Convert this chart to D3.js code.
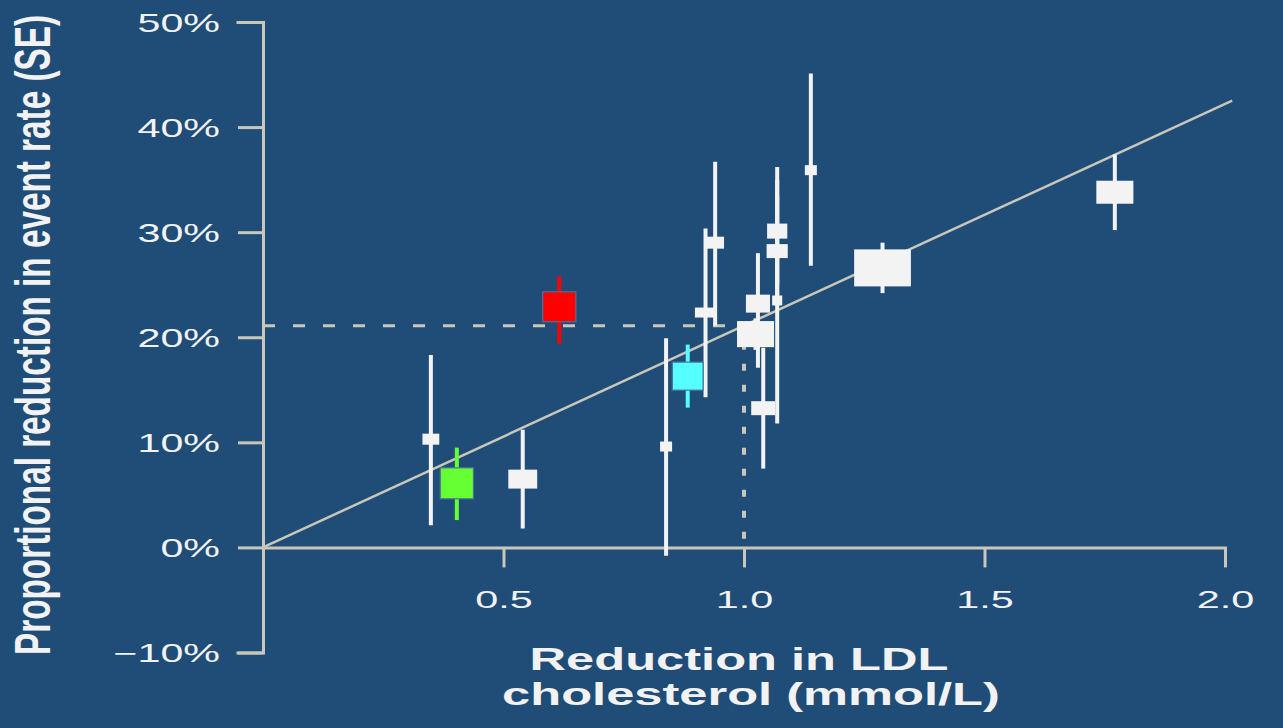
<!DOCTYPE html>
<html>
<head>
<meta charset="utf-8">
<script src="https://cdn.jsdelivr.net/npm/d3@7"></script>
<style>
  html, body { margin: 0; padding: 0; background: #204d77; }
  svg { display: block; }
</style>
</head>
<body>
<script>
// ---------- DATA ----------
// LDL cholesterol reduction (mmol/L) per trial
const reduction = [0.349, 0.403, 0.540, 0.616, 0.838, 0.883, 0.920, 0.940, 1.024, 1.029, 1.040, 1.069, 1.069, 1.069, 1.139, 1.288, 1.771];
// Proportional reduction in event rate (%)
const effect    = [10.3, 6.1, 6.5, 22.9, 9.6, 16.3, 22.35, 29.0, 20.3, 23.2, 13.25, 30.1, 28.2, 23.5, 35.9, 26.6, 33.8];
// Error bar (SE) limits (%)
const ciLow     = [2.1, 2.6, 1.8, 19.4, -0.8, 13.3, 14.3, 21.1, 18.8, 17.1, 7.5, 25.0, 23.0, 11.8, 26.8, 24.2, 30.2];
const ciHigh    = [18.3, 9.5, 11.2, 25.8, 19.9, 19.3, 30.35, 36.7, 21.8, 28.0, 19.0, 35.0, 33.5, 36.2, 45.1, 29.0, 37.4];
// Box extent (trial weight), in mmol/L and % units
const boxWidth  = [0.035, 0.069, 0.060, 0.069, 0.025, 0.064, 0.044, 0.037, 0.077, 0.050, 0.050, 0.042, 0.044, 0.021, 0.025, 0.118, 0.077];
const boxHeight = [1.05, 2.95, 1.8, 2.85, 0.95, 2.67, 0.95, 1.14, 2.48, 1.71, 1.33, 1.43, 1.33, 0.95, 0.95, 3.52, 2.19];
// Highlight group of each trial
const group     = ["other", "green", "other", "red", "other", "cyan", "other", "other", "other", "other", "other", "other", "other", "other", "other", "other", "other"];

const yTicks = [-10, 0, 10, 20, 30, 40, 50];
const yTickLabels = ["\u221210%", "0%", "10%", "20%", "30%", "40%", "50%"];
const xTicks = [0.5, 1.0, 1.5, 2.0];
const xTickLabels = ["0.5", "1.0", "1.5", "2.0"];
const slope = 21.1;        // % reduction per 1 mmol/L
const lineEndX = 2.015;    // regression line extent
const refX = 1.0;          // reference LDL reduction
const xTitleLines = ["Reduction in LDL", "cholesterol (mmol/L)"];
const yTitle = "Proportional reduction in event rate (SE)";

// ---------- STYLE ----------
const W = 1283, H = 728;
const bg = "#204d77";
const axisColor = "#c9c6ba";
const textColor = "#f2f2f2";
const colorOf = { other: "#f3f3f3", green: "#66ff33", red: "#ff0000", cyan: "#55ffff" };

const svg = d3.select("body").append("svg").attr("width", W).attr("height", H);
svg.append("rect").attr("width", W).attr("height", H).attr("fill", bg);

const x = d3.scaleLinear().domain([0, 2]).range([263, 1225]);
const y = d3.scaleLinear().domain([-10, 50]).range([652.5, 22]);

// Y axis
const yAxis = svg.append("g").attr("transform", `translate(${x(0)},0)`)
  .call(d3.axisLeft(y).tickValues(yTicks).tickSize(25).tickSizeOuter(25)
    .tickFormat((d, i) => yTickLabels[i]));
yAxis.select(".domain").attr("stroke", axisColor).attr("stroke-width", 3).attr("fill", "none");
yAxis.selectAll(".tick line").attr("stroke", axisColor).attr("stroke-width", 3);
yAxis.selectAll(".tick text")
  .attr("x", 0).attr("dy", "0.36em")
  .attr("transform", "translate(-43,0) scale(1.65,1)")
  .attr("fill", textColor)
  .attr("font-family", "Liberation Sans, Arial, sans-serif")
  .attr("font-size", 25)
  .attr("text-anchor", "end");

// X axis (at 0%)
const xAxis = svg.append("g").attr("transform", `translate(0,${y(0)})`)
  .call(d3.axisBottom(x).tickValues(xTicks).tickSize(20).tickSizeOuter(0)
    .tickFormat((d, i) => xTickLabels[i]));
xAxis.select(".domain").attr("stroke", axisColor).attr("stroke-width", 3);
xAxis.selectAll(".tick line").attr("stroke", axisColor).attr("stroke-width", 3);
xAxis.selectAll(".tick text")
  .attr("y", 0).attr("dy", 0)
  .attr("transform", "translate(0,61) scale(1.8,1)")
  .attr("fill", textColor)
  .attr("font-family", "Liberation Sans, Arial, sans-serif")
  .attr("font-size", 23)
  .attr("text-anchor", "middle");
svg.selectAll(".domain").attr("stroke-linecap", "square");

// Reference lines
svg.append("line")
  .attr("x1", x(0)).attr("x2", x(refX))
  .attr("y1", y(slope * refX)).attr("y2", y(slope * refX))
  .attr("stroke", axisColor).attr("stroke-width", 3).attr("stroke-dasharray", "12 18");
svg.append("line")
  .attr("x1", x(refX)).attr("x2", x(refX))
  .attr("y1", y(slope * refX) + 17).attr("y2", y(0))
  .attr("stroke", axisColor).attr("stroke-width", 4).attr("stroke-dasharray", "7 14");

// Regression line
svg.append("line")
  .attr("x1", x(0)).attr("y1", y(0))
  .attr("x2", x(lineEndX)).attr("y2", y(slope * lineEndX))
  .attr("stroke", axisColor).attr("stroke-width", 2.5);

// Trials
const idx = d3.range(reduction.length);
svg.append("g").selectAll("line").data(idx).join("line")
  .attr("x1", i => x(reduction[i])).attr("x2", i => x(reduction[i]))
  .attr("y1", i => y(ciHigh[i])).attr("y2", i => y(ciLow[i]))
  .attr("stroke", i => colorOf[group[i]]).attr("stroke-width", 4);

svg.append("g").selectAll("rect").data(idx).join("rect")
  .attr("x", i => x(reduction[i] - boxWidth[i] / 2))
  .attr("width", i => x(boxWidth[i]) - x(0))
  .attr("y", i => y(effect[i] + boxHeight[i] / 2))
  .attr("height", i => y(0) - y(boxHeight[i]))
  .attr("fill", i => colorOf[group[i]])
  .attr("stroke", i => group[i] === "other" ? "none" : "#4a7299")
  .attr("stroke-width", 1.2);

// Axis titles
const xt = svg.append("g");
const xTitleCenters = [739, 751];
const xTitleBaselines = [670, 705];
xTitleLines.forEach((t, i) => {
  xt.append("text")
    .attr("transform", `translate(${xTitleCenters[i]},${xTitleBaselines[i]}) scale(1.66,1)`)
    .attr("text-anchor", "middle")
    .attr("font-family", "Liberation Sans, Arial, sans-serif")
    .attr("font-weight", "bold")
    .attr("font-size", 30.5)
    .attr("fill", textColor)
    .text(t);
});

svg.append("text")
  .attr("transform", "translate(37.5,335) scale(1.5,1) rotate(-90)")
  .attr("text-anchor", "middle")
  .attr("dy", "0.25em")
  .attr("font-family", "Liberation Sans, Arial, sans-serif")
  .attr("font-weight", "bold")
  .attr("font-size", 33)
  .attr("textLength", 640)
  .attr("lengthAdjust", "spacingAndGlyphs")
  .attr("fill", textColor)
  .text(yTitle);
</script>
</body>
</html>
